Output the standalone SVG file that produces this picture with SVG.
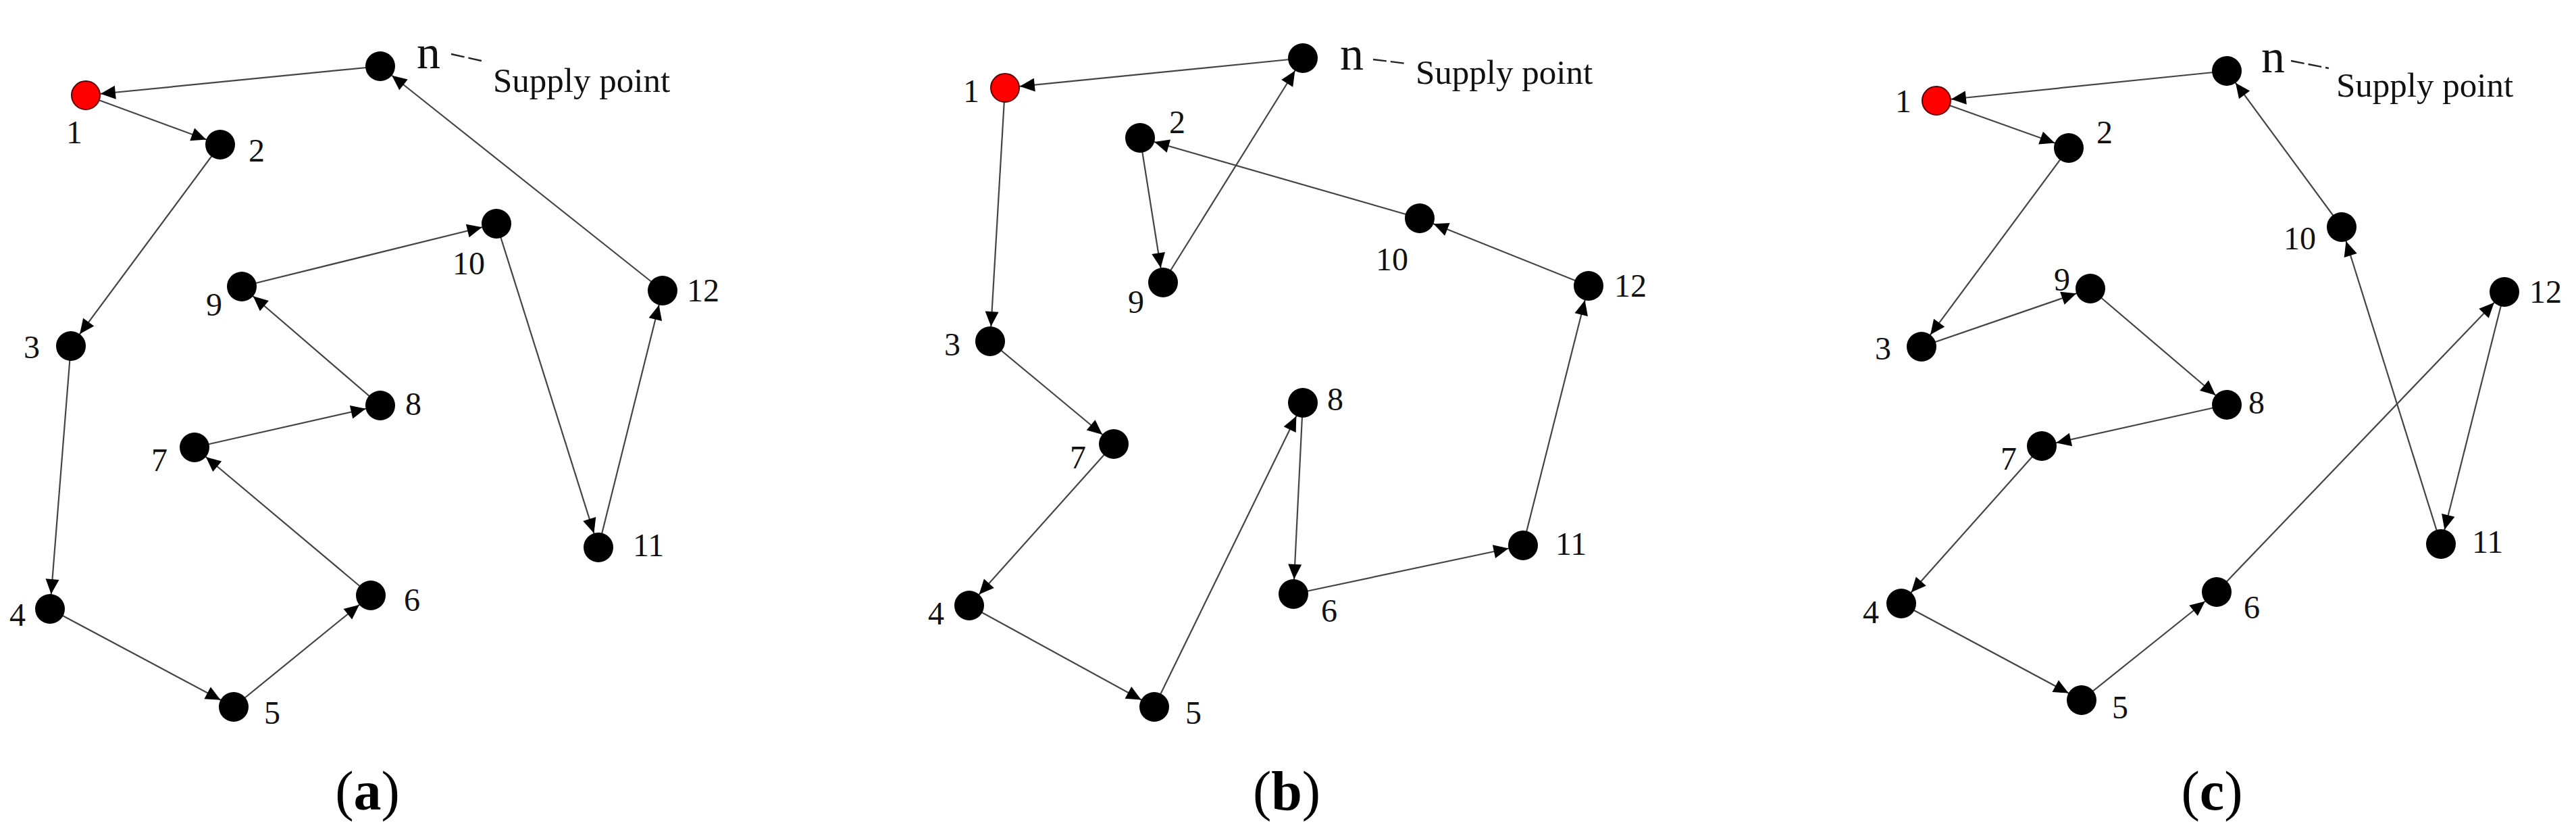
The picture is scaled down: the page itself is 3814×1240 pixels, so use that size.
<svg xmlns="http://www.w3.org/2000/svg" width="3814" height="1240" viewBox="0 0 3814 1240">
<defs>
<style>
.e{stroke:#444;stroke-width:2.2;fill:none;marker-end:url(#ah)}
.nd{fill:#000}
.red{fill:#ff0000;stroke:#5a0000;stroke-width:2}
.lb{font-family:"Liberation Serif","Times New Roman",serif;font-size:48px;fill:#111}
.nl{font-family:"Liberation Serif","Times New Roman",serif;font-size:70px;fill:#111}
.sp{font-family:"Liberation Serif","Times New Roman",serif;font-size:51px;fill:#111}
.ld{stroke:#222;stroke-width:2.4;stroke-dasharray:20 6}
.cap{font-family:"Liberation Serif","Times New Roman",serif;font-size:82px;fill:#000;text-anchor:middle}
</style>
<marker id="ah" markerUnits="userSpaceOnUse" markerWidth="44" markerHeight="20" refX="44" refY="10" orient="auto" overflow="visible">
<path d="M0,0 L22,10 L0,20 z" fill="#000"/>
</marker>
</defs>
<rect width="3814" height="1240" fill="#fff"/>

<g id="connectors">
<!-- panel a -->
<line class="e" x1="563" y1="98" x2="127" y2="141"/>
<line class="e" x1="127" y1="141" x2="326" y2="214"/>
<line class="e" x1="326" y1="214" x2="105" y2="512"/>
<line class="e" x1="105" y1="512" x2="74" y2="901"/>
<line class="e" x1="74" y1="901" x2="346" y2="1046"/>
<line class="e" x1="346" y1="1046" x2="549" y2="881"/>
<line class="e" x1="549" y1="881" x2="288" y2="662"/>
<line class="e" x1="288" y1="662" x2="563" y2="600"/>
<line class="e" x1="563" y1="600" x2="358" y2="424"/>
<line class="e" x1="358" y1="424" x2="735" y2="331"/>
<line class="e" x1="735" y1="331" x2="886" y2="810"/>
<line class="e" x1="886" y1="810" x2="981" y2="430"/>
<line class="e" x1="981" y1="430" x2="563" y2="98"/>
<!-- panel b -->
<line class="e" x1="1929" y1="86" x2="1488" y2="130"/>
<line class="e" x1="1488" y1="130" x2="1466" y2="505"/>
<line class="e" x1="1466" y1="505" x2="1649" y2="657"/>
<line class="e" x1="1649" y1="657" x2="1435" y2="896"/>
<line class="e" x1="1435" y1="896" x2="1709" y2="1046"/>
<line class="e" x1="1709" y1="1046" x2="1929" y2="596"/>
<line class="e" x1="1929" y1="596" x2="1915" y2="879"/>
<line class="e" x1="1915" y1="879" x2="2255" y2="807"/>
<line class="e" x1="2255" y1="807" x2="2352" y2="423"/>
<line class="e" x1="2352" y1="423" x2="2102" y2="323"/>
<line class="e" x1="2102" y1="323" x2="1688" y2="204"/>
<line class="e" x1="1688" y1="204" x2="1722" y2="418"/>
<line class="e" x1="1722" y1="418" x2="1929" y2="86"/>
<!-- panel c -->
<line class="e" x1="3297" y1="105" x2="2867" y2="149"/>
<line class="e" x1="2867" y1="149" x2="3063" y2="219"/>
<line class="e" x1="3063" y1="219" x2="2845" y2="513"/>
<line class="e" x1="2845" y1="513" x2="3095" y2="427"/>
<line class="e" x1="3095" y1="427" x2="3297" y2="599"/>
<line class="e" x1="3297" y1="599" x2="3023" y2="660"/>
<line class="e" x1="3023" y1="660" x2="2815" y2="893"/>
<line class="e" x1="2815" y1="893" x2="3082" y2="1036"/>
<line class="e" x1="3082" y1="1036" x2="3282" y2="876"/>
<line class="e" x1="3282" y1="876" x2="3708" y2="432"/>
<line class="e" x1="3708" y1="432" x2="3614" y2="805"/>
<line class="e" x1="3614" y1="805" x2="3467" y2="336"/>
<line class="e" x1="3467" y1="336" x2="3297" y2="105"/>
</g>

<!-- panel a nodes -->
<g id="a-n"><circle class="nd" cx="563" cy="98" r="22"/><text class="nl" x="617" y="101">n</text><line class="ld" x1="668" y1="80" x2="713" y2="90"/><text class="sp" x="730" y="136">Supply point</text></g>
<g id="a-1"><circle class="red" cx="127" cy="141" r="21"/><text class="lb" x="98" y="212">1</text></g>
<g id="a-2"><circle class="nd" cx="326" cy="214" r="22"/><text class="lb" x="368" y="239">2</text></g>
<g id="a-3"><circle class="nd" cx="105" cy="512" r="22"/><text class="lb" x="35" y="530">3</text></g>
<g id="a-4"><circle class="nd" cx="74" cy="901" r="22"/><text class="lb" x="14" y="926">4</text></g>
<g id="a-5"><circle class="nd" cx="346" cy="1046" r="22"/><text class="lb" x="391" y="1071">5</text></g>
<g id="a-6"><circle class="nd" cx="549" cy="881" r="22"/><text class="lb" x="598" y="904">6</text></g>
<g id="a-7"><circle class="nd" cx="288" cy="662" r="22"/><text class="lb" x="224" y="697">7</text></g>
<g id="a-8"><circle class="nd" cx="563" cy="600" r="22"/><text class="lb" x="600" y="614">8</text></g>
<g id="a-9"><circle class="nd" cx="358" cy="424" r="22"/><text class="lb" x="305" y="467">9</text></g>
<g id="a-10"><circle class="nd" cx="735" cy="331" r="22"/><text class="lb" x="670" y="406">10</text></g>
<g id="a-11"><circle class="nd" cx="886" cy="810" r="22"/><text class="lb" x="937" y="823">11</text></g>
<g id="a-12"><circle class="nd" cx="981" cy="430" r="22"/><text class="lb" x="1017" y="446">12</text></g>
<text class="cap" x="544" y="1198">(<tspan font-weight="bold">a</tspan>)</text>

<!-- panel b nodes -->
<g id="b-n"><circle class="nd" cx="1929" cy="86" r="22"/><text class="nl" x="1984" y="103">n</text><line class="ld" x1="2033" y1="88" x2="2082" y2="94"/><text class="sp" x="2096" y="124">Supply point</text></g>
<g id="b-1"><circle class="red" cx="1488" cy="130" r="21"/><text class="lb" x="1426" y="151">1</text></g>
<g id="b-2"><circle class="nd" cx="1688" cy="204" r="22"/><text class="lb" x="1731" y="197">2</text></g>
<g id="b-3"><circle class="nd" cx="1466" cy="505" r="22"/><text class="lb" x="1398" y="526">3</text></g>
<g id="b-4"><circle class="nd" cx="1435" cy="896" r="22"/><text class="lb" x="1374" y="924">4</text></g>
<g id="b-5"><circle class="nd" cx="1709" cy="1046" r="22"/><text class="lb" x="1755" y="1071">5</text></g>
<g id="b-6"><circle class="nd" cx="1915" cy="879" r="22"/><text class="lb" x="1956" y="920">6</text></g>
<g id="b-7"><circle class="nd" cx="1649" cy="657" r="22"/><text class="lb" x="1584" y="693">7</text></g>
<g id="b-8"><circle class="nd" cx="1929" cy="596" r="22"/><text class="lb" x="1965" y="607">8</text></g>
<g id="b-9"><circle class="nd" cx="1722" cy="418" r="22"/><text class="lb" x="1670" y="463">9</text></g>
<g id="b-10"><circle class="nd" cx="2102" cy="323" r="22"/><text class="lb" x="2037" y="400">10</text></g>
<g id="b-11"><circle class="nd" cx="2255" cy="807" r="22"/><text class="lb" x="2303" y="821">11</text></g>
<g id="b-12"><circle class="nd" cx="2352" cy="423" r="22"/><text class="lb" x="2390" y="439">12</text></g>
<text class="cap" x="1905" y="1198">(<tspan font-weight="bold">b</tspan>)</text>

<!-- panel c nodes -->
<g id="c-n"><circle class="nd" cx="3297" cy="105" r="22"/><text class="nl" x="3348" y="107">n</text><line class="ld" x1="3392" y1="90" x2="3448" y2="101"/><text class="sp" x="3459" y="143">Supply point</text></g>
<g id="c-1"><circle class="red" cx="2867" cy="149" r="21"/><text class="lb" x="2806" y="166">1</text></g>
<g id="c-2"><circle class="nd" cx="3063" cy="219" r="22"/><text class="lb" x="3104" y="212">2</text></g>
<g id="c-3"><circle class="nd" cx="2845" cy="513" r="22"/><text class="lb" x="2776" y="532">3</text></g>
<g id="c-4"><circle class="nd" cx="2815" cy="893" r="22"/><text class="lb" x="2758" y="922">4</text></g>
<g id="c-5"><circle class="nd" cx="3082" cy="1036" r="22"/><text class="lb" x="3127" y="1063">5</text></g>
<g id="c-6"><circle class="nd" cx="3282" cy="876" r="22"/><text class="lb" x="3322" y="915">6</text></g>
<g id="c-7"><circle class="nd" cx="3023" cy="660" r="22"/><text class="lb" x="2962" y="695">7</text></g>
<g id="c-8"><circle class="nd" cx="3297" cy="599" r="22"/><text class="lb" x="3329" y="612">8</text></g>
<g id="c-9"><circle class="nd" cx="3095" cy="427" r="22"/><text class="lb" x="3041" y="430">9</text></g>
<g id="c-10"><circle class="nd" cx="3467" cy="336" r="22"/><text class="lb" x="3381" y="369">10</text></g>
<g id="c-11"><circle class="nd" cx="3614" cy="805" r="22"/><text class="lb" x="3660" y="818">11</text></g>
<g id="c-12"><circle class="nd" cx="3708" cy="432" r="22"/><text class="lb" x="3745" y="448">12</text></g>
<text class="cap" x="3275" y="1198">(<tspan font-weight="bold">c</tspan>)</text>
</svg>
